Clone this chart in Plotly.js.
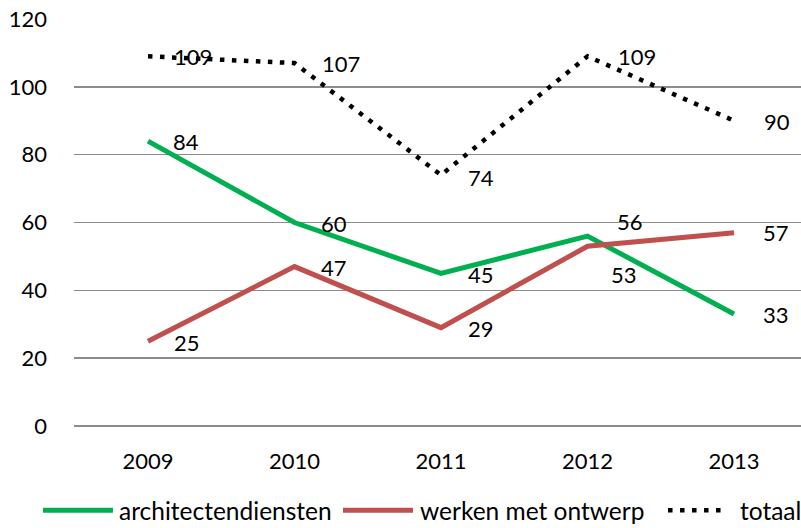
<!DOCTYPE html>
<html><head><meta charset="utf-8">
<script src="https://cdn.plot.ly/plotly-3.0.1.min.js"></script>
<style>body{margin:0}#c{width:801px;height:528px}</style>
</head><body><div id="c"></div>
<script>
var years = ['2009','2010','2011','2012','2013'];
var seriesNames = ['architectendiensten', 'werken met ontwerp', 'totaal'];
var architectendiensten = [84, 60, 45, 56, 33];
var werkenMetOntwerp = [25, 47, 29, 53, 57];
var totaal = [109, 107, 74, 109, 90];
var yTicks = [0, 20, 40, 60, 80, 100, 120];

var F = 'Lato, "Open Sans", sans-serif';
var colors = ['#00B050', '#C0504D', '#000000'];
var widths = [5, 5, 4.5];
var dashes = ['solid', 'solid', '4.5px,7.5px'];
var allSeries = [architectendiensten, werkenMetOntwerp, totaal];

var traces = allSeries.map(function(vals, k) {
  return {x: years, y: vals, name: seriesNames[k], mode: 'lines', showlegend: false,
    line: {color: colors[k], width: widths[k], dash: dashes[k]}};
});

var ann = [];
function addLabels(vals, shifts) {
  vals.forEach(function(v, i) {
    ann.push({x: i, y: v, xref: 'x', yref: 'y', text: String(v), showarrow: false,
      xanchor: 'left', yanchor: 'middle',
      xshift: shifts[i][0], yshift: shifts[i][1], font: {family: F, size: 22, color: '#000'}});
  });
}
addLabels(architectendiensten, [[23,0],[24,-1],[25,-1],[27,15],[27,0]]);
addLabels(werkenMetOntwerp, [[24,-1],[24,-1],[25,-1],[21,-28],[27,0]]);
addLabels(totaal, [[24,0],[25,0],[25,-2],[28,0],[28,-1]]);

// custom legend (paper coordinates)
var legY = -0.207;
var legLine = [[-0.0426, 0.0536], [0.3700, 0.4663], [0.8171, 0.8996]];
var legText = [0.0591, 0.4732, 0.9133];
var shapes = [];
seriesNames.forEach(function(n, k) {
  shapes.push({type: 'line', xref: 'paper', yref: 'paper', x0: legLine[k][0], x1: legLine[k][1],
    y0: legY, y1: legY, line: {color: colors[k], width: widths[k], dash: dashes[k]}});
  ann.push({xref: 'paper', yref: 'paper', x: legText[k], y: legY, text: n, showarrow: false,
    xanchor: 'left', yanchor: 'middle', font: {family: F, size: 24.5, color: '#000'}});
});

var layout = {
  width: 801, height: 528,
  margin: {l: 74, r: 0, t: 19, b: 102},
  paper_bgcolor: '#fff', plot_bgcolor: '#fff',
  font: {family: F, size: 22, color: '#000'},
  showlegend: false,
  xaxis: {type: 'category', range: [-0.505, 4.457], showgrid: false, zeroline: false, showline: false,
    ticks: '', ticklabelstandoff: 20, tickfont: {family: F, size: 22}, automargin: false},
  yaxis: {range: [0, 120], tickvals: yTicks, showgrid: true, gridcolor: '#8c8c8c', gridwidth: 1.5,
    zeroline: true, zerolinecolor: '#8c8c8c', zerolinewidth: 1.5, showline: false, ticks: '',
    ticklabelstandoff: 26, tickfont: {family: F, size: 22}, automargin: false},
  shapes: shapes,
  annotations: ann
};
Plotly.newPlot('c', traces, layout, {displayModeBar: false, staticPlot: true});
</script></body></html>
